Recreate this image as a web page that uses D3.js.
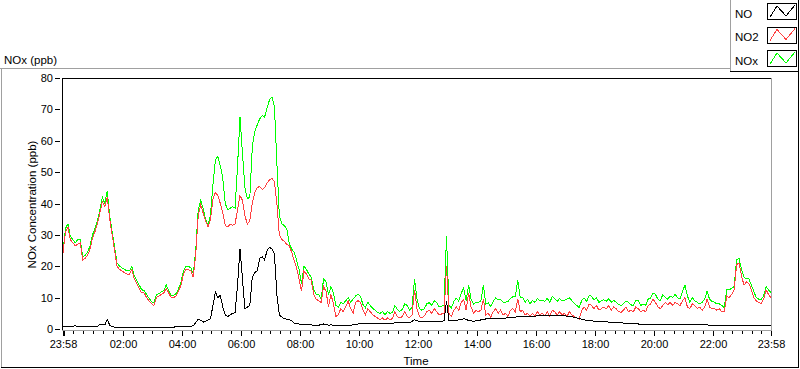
<!DOCTYPE html>
<html>
<head>
<meta charset="utf-8">
<script src="https://cdn.jsdelivr.net/npm/d3@7"></script>
<style>
html, body { margin: 0; padding: 0; background: #fff; }
svg { display: block; font-family: "Liberation Sans", Arial, sans-serif; }
</style>
</head>
<body>
<div id="chart"></div>
<script>
var svgWidth = 800;
var svgHeight = 369;

// one sample every 5 minutes, 23:58 -> 23:58 next day
var startTime = new Date(2000, 0, 1, 23, 58);
var endTime = new Date(2000, 0, 2, 23, 58);
var stepMinutes = 5;

var seriesNames = ["NO", "NO2", "NOx"];
var seriesColors = ["#000000", "#ff4040", "#00ff00"];
var yTicks = [0, 10, 20, 30, 40, 50, 60, 70, 80];
var xTickLabels = ["23:58", "02:00", "04:00", "06:00", "08:00", "10:00", "12:00",
                   "14:00", "16:00", "18:00", "20:00", "22:00", "23:58"];

var noValues = [
  0.8, 0.8, 0.8, 0.8, 0.9, 1, 0.9, 0.8, 0.8, 0.8, 0.8, 0.9, 0.9, 0.9, 0.9, 1.4, 1.6, 1.3, 3.1, 1.2, 0.7, 0.6, 0.5, 0.6,
  0.6, 0.5, 0.6, 0.6, 0.6, 0.6, 0.6, 0.6, 0.5, 0.6, 0.6, 0.6, 0.6, 0.6, 0.6, 0.6, 0.6, 0.6, 0.6, 0.6, 0.6, 0.6, 0.7, 0.7,
  0.8, 0.9, 0.8, 0.8, 0.9, 1, 2, 3.2, 2.8, 2.2, 2.4, 2.9, 3.3, 7.5, 11.8, 10, 10.7, 7, 4.5, 4, 4.5, 5, 5.2, 14,
  25.5, 16, 6.5, 7, 7.5, 16.5, 18, 18.5, 22.5, 23, 22, 25, 26, 25.5, 24, 11, 4.5, 3.8, 3.3, 3.1, 2.9, 2.7, 1.8, 1.6,
  1.6, 1.5, 1.4, 1.4, 1.3, 1.3, 1.2, 1.2, 1.2, 1.4, 1.6, 1.4, 1.2, 1.3, 1.2, 1.2, 1.1, 1.2, 1.1, 1.2, 1.1, 1.2, 1.3, 1.4,
  1.6, 1.8, 1.8, 1.9, 1.9, 1.8, 1.8, 1.9, 1.8, 1.9, 1.9, 1.8, 1.9, 1.8, 1.8, 2, 2.1, 2, 2.1, 2.2, 2.2, 2.1, 2.4, 3,
  2.6, 2.4, 2.4, 2.3, 2.4, 2.4, 2.5, 2.5, 2.4, 2.5, 2.5, 2.6, 9, 2.6, 2.7, 2.8, 2.8, 2.9, 3, 3.3, 3.1, 2.7, 2.6, 2.5,
  2.6, 2.7, 2.9, 3.1, 3.2, 3.3, 3.3, 3.3, 3.4, 3.4, 3.4, 3.5, 3.5, 3.6, 3.7, 3.8, 3.8, 3.9, 3.9, 4, 4, 4, 4.1, 4.1,
  4.1, 4.2, 4.2, 4.2, 4.3, 4.3, 4.3, 4.3, 4.3, 4.3, 4.2, 4.2, 4.2, 4.1, 4, 3.9, 3.7, 3.5, 3.3, 3.1, 2.9, 2.8, 2.7, 2.6,
  2.5, 2.5, 2.4, 2.4, 2.3, 2.3, 2.2, 2.2, 2.1, 2.1, 2.1, 2, 1.9, 1.9, 1.8, 1.7, 1.6, 1.6, 1.6, 1.5, 1.5, 1.5, 1.5, 1.5,
  1.5, 1.5, 1.5, 1.5, 1.5, 1.5, 1.5, 1.5, 1.5, 1.5, 1.5, 1.4, 1.4, 1.4, 1.4, 1.4, 1.4, 1.4, 1.4, 1.3, 1.3, 1.3, 1.3, 1.2,
  1.2, 1.2, 1.2, 1.2, 1.2, 1.1, 1.1, 1.1, 1.1, 1.1, 1.1, 1.1, 1.1, 1.1, 1.0, 1.0, 1.0, 1.0, 1.0, 1.0, 1.0, 1.0, 1.0, 1.0, 1.0
];

var no2Values = [
  24.2, 31, 32.5, 28.5, 27.5, 26.5, 27, 27.5, 22, 22.5, 23.5, 25.5, 29, 31, 33.5, 37, 40.5, 39, 42, 35, 30, 25, 20, 19,
  18.5, 18, 17.5, 17.5, 19, 16, 14.5, 13, 11.5, 11.5, 10, 9, 8, 7.5, 10, 10.5, 11, 11.5, 13, 11.5, 10, 10, 10.5, 12,
  14, 17.5, 19, 19, 18.5, 16.5, 24, 36, 39.5, 37, 34.5, 32.5, 35, 41.5, 43.5, 42.5, 40, 37, 33, 32.5, 33.5, 33, 33.5, 38,
  42.5, 41, 36, 33.5, 34.5, 40, 43.5, 45, 45.5, 44.5, 45, 46.5, 47.5, 48, 47, 40, 30, 28.5, 28, 27, 26.5, 24.5, 22, 19.5,
  16, 12, 18.5, 17.5, 16, 15.5, 11, 9.5, 9, 8.5, 13.5, 12, 7, 11, 8, 4, 4.5, 6.5, 5.5, 7, 9, 6.5, 5, 8.5,
  9, 8.5, 6, 4.5, 6.5, 5.5, 4.5, 4, 3.5, 3, 3.5, 2.8, 3.5, 3, 3.3, 5.5, 4, 3.5, 4, 5.5, 4, 3.6, 4.5, 12.5,
  6.5, 4, 3.5, 4.2, 5.5, 6, 5, 6.5, 5.5, 4.5, 4.8, 5, 20, 5, 4, 6, 7, 6, 8.5, 9.5, 6, 11.5, 7, 5,
  6, 5.5, 6, 9.5, 4.5, 5, 3.8, 5.5, 6.5, 5, 6, 4.5, 5, 4, 6, 6.5, 5.5, 9.5, 5.5, 6, 4.5, 5, 4, 5,
  4.2, 5.5, 4.5, 5, 4.2, 5.5, 4, 6, 5.5, 4.5, 5.5, 4.5, 5, 4, 5.5, 4.5, 4, 3.5, 3.2, 6, 7, 6, 8, 7.5,
  6.5, 7.5, 6, 6.5, 7, 6.5, 7.5, 6, 7, 6.5, 5.5, 5.3, 6, 7, 5.5, 6, 5.5, 7, 6.5, 5.5, 6, 5.5, 7.5, 8,
  9.5, 8.5, 7, 6.5, 7.5, 8.5, 7.8, 8.5, 7.5, 8.5, 8, 7.5, 9, 10, 7, 6.5, 8, 7.5, 6.5, 7, 6, 7, 9.5, 7,
  6.5, 6.5, 6, 6.5, 5.5, 5.6, 10.5, 10, 11, 12.5, 20.5, 21, 17, 14, 15, 14.5, 12.5, 10, 9, 8.5, 8, 9.5, 12.5, 11, 10
];

var noxValues = [
  24.8, 32, 33.5, 29.5, 28.5, 27.5, 28.5, 28.5, 23, 23.5, 24.5, 26.5, 30, 32, 34.5, 38, 42, 40, 44, 36, 31, 26, 21, 20,
  19.5, 19, 18.5, 18.5, 20, 17, 15.5, 14, 12.5, 12.3, 11, 9.8, 8.7, 8.3, 10.8, 11.3, 11.8, 12.3, 14, 12.3, 10.8, 10.8, 11.3, 12.8,
  15, 18.5, 20, 20, 19.5, 17.5, 25, 38, 41, 38.5, 35, 33, 36.5, 46, 54, 55, 52, 48, 40, 38, 38.5, 39, 38.5, 52,
  67.5, 56, 45, 41.5, 42, 58, 63, 65, 67, 68, 67.5, 70.5, 73, 74, 71, 53, 36, 33.5, 33, 32, 27.5, 25.5, 24.5, 22,
  19, 14.5, 20, 19, 17.5, 16.5, 12.5, 11, 11, 9.5, 16, 15, 11, 13.5, 11.5, 7.5, 7, 8.5, 8, 9, 10, 8.5, 9.5, 10.5,
  11, 10.5, 7.8, 6.8, 8.5, 7.5, 6.5, 6, 5.3, 5, 5.5, 4.6, 5.5, 5, 5.2, 7.5, 6.2, 5.6, 6.2, 8, 7.5, 6, 7, 16,
  9.5, 6.5, 6, 6.5, 8, 8.4, 7.5, 9, 8.5, 7, 7.3, 7.6, 29.5, 7.6, 6.7, 8.8, 9.8, 8.9, 11.5, 13, 9.1, 14, 9.6, 7.8,
  8.6, 8.5, 9, 14, 8, 8.3, 7.1, 8.8, 9.9, 9.3, 9.5, 8.5, 8.5, 8.8, 9.7, 10.3, 10.5, 15.5, 10, 10, 8.5, 9.5, 8.1, 9.1,
  8.5, 9.7, 9, 9.2, 8.8, 9.8, 8.5, 10.3, 9.8, 8.8, 9.7, 9, 9.2, 9.5, 10, 9, 8.2, 7.5, 6.8, 9.1, 9.9, 8.8, 10.7, 10.5,
  9.2, 10, 8.5, 9, 9.3, 8.8, 9.7, 8.5, 9.1, 8.6, 7.8, 7.5, 8, 9, 8.5, 7.7, 7.5, 9, 9.2, 7.5, 8, 7.5, 9.5, 9.8,
  11.5, 11, 9.5, 9, 11, 10, 9.5, 10.5, 10, 11, 10, 9.5, 12, 14, 10.5, 8.5, 10, 9, 8.5, 8, 8.5, 9.5, 12, 9.5,
  8.8, 8.5, 8, 8, 7.5, 6.8, 12.5, 12.5, 13, 13.5, 22, 22.5, 19, 16.5, 16, 16, 14, 12, 10, 9.5, 9.5, 10.5, 13.5, 12.5, 11.5
];

var frameGrey = "#a0a0a0";

function toPoints(values) {
  return values.map(function (v, i) {
    return { time: new Date(startTime.getTime() + i * stepMinutes * 60000), value: v };
  });
}

var seriesData = [noValues, no2Values, noxValues].map(toPoints);

var svg = d3.select("#chart")
  .append("svg")
  .attr("width", svgWidth)
  .attr("height", svgHeight);

var xScale = d3.scaleTime()
  .domain([startTime, endTime])
  .range([63, 771]);

var yScale = d3.scaleLinear()
  .domain([0, 80])
  .range([329, 78]);

// outer panel + legend frame
function hline(x1, x2, yy, color) {
  svg.append("line").attr("x1", x1).attr("x2", x2).attr("y1", yy).attr("y2", yy)
    .attr("stroke", color).attr("shape-rendering", "crispEdges");
}
function vline(xx, y1, y2, color) {
  svg.append("line").attr("x1", xx).attr("x2", xx).attr("y1", y1).attr("y2", y2)
    .attr("stroke", color).attr("shape-rendering", "crispEdges");
}
hline(0, 730, 68.5, frameGrey);
vline(1.5, 68, 368, frameGrey);
hline(1, 799, 367.5, "#000");
vline(798.5, 68, 368, "#000");
vline(730.5, 0, 72, frameGrey);
hline(730, 799, 71.5, "#000");
vline(798.5, 0, 72, "#000");

svg.append("text")
  .attr("x", 4)
  .attr("y", 64)
  .style("font-size", "11.5px")
  .text("NOx (ppb)");

// plot frame
vline(62.5, 78, 331, "#000");
hline(62, 772, 78.5, "#000");
vline(771.5, 78, 331, frameGrey);
hline(62, 772, 330.5, frameGrey);

svg.append("clipPath").attr("id", "plotClip")
  .append("rect").attr("x", 63).attr("y", 79).attr("width", 708).attr("height", 251);

// lines: NOx under NO2 under NO
var lineGen = d3.line()
  .x(d => xScale(d.time))
  .y(d => yScale(d.value));

var plotGroup = svg.append("g").attr("clip-path", "url(#plotClip)");
[2, 1, 0].forEach(function (k) {
  plotGroup.append("path")
    .datum(seriesData[k])
    .attr("fill", "none")
    .attr("stroke", seriesColors[k])
    .attr("stroke-width", 1)
    .attr("shape-rendering", "crispEdges")
    .attr("d", lineGen);
});

// y axis
var yAxis = svg.append("g")
  .attr("transform", "translate(60,0)")
  .call(d3.axisLeft(yScale).tickValues(yTicks).tickSize(5).tickPadding(2));
yAxis.select(".domain").remove();
yAxis.selectAll("text").style("font-size", "11px").style("font-family", "Liberation Sans, Arial, sans-serif");
yAxis.selectAll("line").attr("shape-rendering", "crispEdges");

svg.append("text")
  .attr("transform", "translate(35.5,204.5) rotate(-90)")
  .attr("text-anchor", "middle")
  .style("font-size", "11.5px")
  .text("NOx Concentration (ppb)");

// x axis: major ticks from the labels, 5 minor ticks between each pair
var majorTicks = xTickLabels.map(function (lab, i) {
  var p = lab.split(":");
  return new Date(2000, 0, i === 0 ? 1 : 2, +p[0], +p[1]);
});
var minorTicks = [];
for (var i = 0; i < majorTicks.length - 1; i++) {
  var a = majorTicks[i].getTime(), b = majorTicks[i + 1].getTime();
  d3.range(1, 6).forEach(function (k) { minorTicks.push(new Date(a + (b - a) * k / 6)); });
}

var xMinor = svg.append("g")
  .attr("transform", "translate(0,331)")
  .call(d3.axisBottom(xScale).tickValues(minorTicks).tickSize(3).tickFormat(""));
xMinor.select(".domain").remove();

var xAxis = svg.append("g")
  .attr("transform", "translate(0,331)")
  .call(d3.axisBottom(xScale).tickValues(majorTicks).tickSize(5).tickPadding(4)
    .tickFormat((d, i) => xTickLabels[i]));
xAxis.select(".domain").remove();
xAxis.selectAll("text").style("font-size", "11px").style("font-family", "Liberation Sans, Arial, sans-serif");
xAxis.selectAll(".tick").filter((d, i) => i === 0).select("line").attr("stroke-width", 2);
svg.selectAll(".tick line").attr("shape-rendering", "crispEdges");

svg.append("text")
  .attr("x", 416)
  .attr("y", 365)
  .attr("text-anchor", "middle")
  .style("font-size", "11.5px")
  .text("Time");

// legend
var swatch = d3.line();
seriesNames.forEach(function (name, k) {
  var top = 3 + k * 23.5;
  svg.append("text")
    .attr("x", 735)
    .attr("y", top + 14.5)
    .style("font-size", "11.5px")
    .text(name);
  svg.append("rect")
    .attr("x", 767.5).attr("y", top + 0.5)
    .attr("width", 29).attr("height", 16)
    .attr("fill", "#fff").attr("stroke", "#000")
    .attr("shape-rendering", "crispEdges");
  svg.append("path")
    .attr("d", swatch([[770, top + 14], [777, top + 3], [786, top + 13], [795, top + 2]]))
    .attr("fill", "none")
    .attr("stroke", seriesColors[k])
    .attr("shape-rendering", "crispEdges");
});
</script>
</body>
</html>
